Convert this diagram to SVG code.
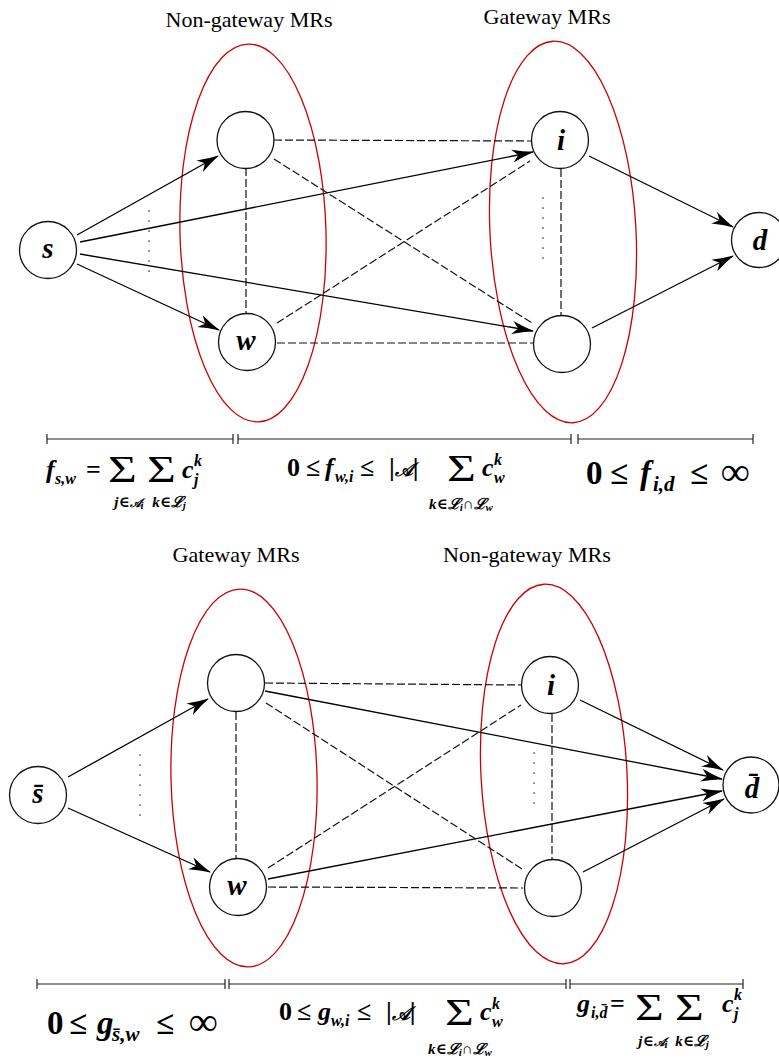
<svg xmlns="http://www.w3.org/2000/svg" width="779" height="1061" viewBox="0 0 779 1061">
<defs>
<marker id="ah" viewBox="0 0 22 14" refX="21" refY="7" markerWidth="22" markerHeight="14" markerUnits="userSpaceOnUse" orient="auto">
<path d="M0,0.5 Q11,4.5 22,7 Q11,9.5 0,13.5 L6,7 Z" fill="#000"/>
</marker>
<style>
.node{fill:#fff;stroke:#111;stroke-width:1.3}
.grp{fill:none;stroke:#cc0000;stroke-width:1.3}
.arr{fill:none;stroke:#000;stroke-width:1.3;marker-end:url(#ah)}
.dash{fill:none;stroke:#111;stroke-width:1.2;stroke-dasharray:8 3}
.dot{fill:none;stroke:#333;stroke-width:1.7;stroke-linecap:round;stroke-dasharray:0 10}
.bar{fill:none;stroke:#222;stroke-width:1.2}
.lbl{font-family:"Liberation Serif",serif;font-size:21px;text-anchor:middle;fill:#000}
.nl{font-family:"Liberation Serif","DejaVu Serif",serif;font-style:italic;font-weight:bold;font-size:29px;text-anchor:middle;fill:#000}
.m{font-family:"Liberation Serif","DejaVu Serif",serif;font-weight:bold;font-size:26px;fill:#000}
.mi{font-style:italic}
.s{font-size:16px}
.sb{font-size:15px}
.ss{font-size:11px}
.sc{font-size:19px}
.scs{font-size:12px}
.lg{font-size:33px}
.inf{font-size:40px}
.sig{font-family:"Liberation Serif","DejaVu Serif",serif;font-size:38px;fill:#000}
.c{text-anchor:middle}
</style>
</defs>
<rect width="779" height="1061" fill="#fff"/>

<!-- ===== TOP DIAGRAM ===== -->
<g id="top-groups">
<ellipse class="grp" cx="253" cy="233" rx="73" ry="189" transform="rotate(-1.5 253 233)"/>
<ellipse class="grp" cx="563" cy="232" rx="73" ry="191" transform="rotate(-3 563 232)"/>
<text class="lbl" x="249" y="27" textLength="167" lengthAdjust="spacingAndGlyphs">Non-gateway MRs</text>
<text class="lbl" x="547" y="24" textLength="127" lengthAdjust="spacingAndGlyphs">Gateway MRs</text>
</g>

<g id="top-connectors">
<line class="arr" x1="77" y1="235" x2="218" y2="156"/>
<line class="arr" x1="80" y1="242" x2="533" y2="152"/>
<line class="arr" x1="80" y1="254" x2="533" y2="331"/>
<line class="arr" x1="77" y1="264" x2="219" y2="330"/>
<line class="arr" x1="589" y1="156" x2="733" y2="227"/>
<line class="arr" x1="592" y1="328" x2="733" y2="256"/>
<line class="dash" x1="274" y1="140" x2="531" y2="141"/>
<line class="dash" x1="274" y1="159" x2="532" y2="323"/>
<line class="dash" x1="277" y1="323" x2="530" y2="161"/>
<line class="dash" x1="277" y1="343" x2="533" y2="343"/>
<line class="dash" x1="246" y1="168" x2="246" y2="314"/>
<line class="dash" x1="561" y1="169" x2="561" y2="316"/>
<line class="dot" x1="149" y1="211" x2="149" y2="275"/>
<line class="dot" x1="543" y1="198" x2="543" y2="262"/>
</g>

<g id="node-s"><circle class="node" cx="48" cy="250" r="28.5"/><text class="nl" x="48" y="258">s</text></g>
<g id="node-a"><circle class="node" cx="245.5" cy="140" r="28.5"/></g>
<g id="node-w"><circle class="node" cx="247" cy="342" r="28.5"/><text class="nl" x="246" y="350">w</text></g>
<g id="node-i"><circle class="node" cx="560" cy="140" r="28.5"/><text class="nl" x="561" y="150">i</text></g>
<g id="node-b"><circle class="node" cx="562" cy="344" r="28.5"/></g>
<g id="node-d"><circle class="node" cx="759" cy="240" r="27.5"/><text class="nl" x="760" y="250">d</text></g>

<g id="top-scales">
<path class="bar" d="M47,439H233M47,434V444M233,434V444M238,439H571M238,434V444M571,434V444M578,439H753M578,434V444M753,434V444"/>
</g>

<g id="top-formulas">
<text class="m"><tspan class="mi" x="46" y="478">f</tspan><tspan class="mi s" x="55" y="484">s,w</tspan><tspan x="86" y="478">=</tspan></text>
<text class="sig" transform="translate(108,482) scale(1.3,1)">Σ</text>
<text class="sig" transform="translate(147,482) scale(1.3,1)">Σ</text>
<text class="m mi sb c" x="129" y="507">j∈<tspan class="scs">𝒜</tspan><tspan class="ss" dy="2">i</tspan></text>
<text class="m mi sb c" x="169" y="507">k∈ℒ<tspan class="ss" dy="2">j</tspan></text>
<text class="m mi"><tspan x="182" y="478">c</tspan><tspan class="s" x="194" y="466">k</tspan><tspan class="s" x="194" y="485">j</tspan></text>

<text class="m"><tspan x="287" y="476">0</tspan><tspan x="306" y="476">≤</tspan><tspan class="mi" x="325" y="476">f</tspan><tspan class="mi s" x="335" y="482">w,i</tspan><tspan x="360" y="476">≤</tspan><tspan x="389" y="476">|<tspan class="mi sc">𝒜</tspan>|</tspan></text>
<text class="sig" transform="translate(447,481) scale(1.3,1)">Σ</text>
<text class="m mi sb c" x="461" y="509">k∈ℒ<tspan class="ss" dy="2">i</tspan><tspan dy="-2">∩ℒ</tspan><tspan class="ss" dy="2">w</tspan></text>
<text class="m mi"><tspan x="482" y="476">c</tspan><tspan class="s" x="494" y="465">k</tspan><tspan class="s" x="494" y="483">w</tspan></text>

<text class="m lg"><tspan x="586" y="484">0</tspan><tspan x="610" y="484">≤</tspan><tspan class="mi" x="640" y="484">f</tspan><tspan class="mi" x="653" y="491" font-size="21">i,d</tspan><tspan x="690" y="484">≤</tspan><tspan class="inf" x="721" y="485">∞</tspan></text>
</g>

<!-- ===== BOTTOM DIAGRAM ===== -->
<g id="bottom-groups">
<ellipse class="grp" cx="244" cy="778" rx="73" ry="189" transform="rotate(-1.3 244 778)"/>
<ellipse class="grp" cx="554" cy="774" rx="73" ry="190" transform="rotate(-3 554 774)"/>
<text class="lbl" x="236" y="562" textLength="127" lengthAdjust="spacingAndGlyphs">Gateway MRs</text>
<text class="lbl" x="527" y="562" textLength="168" lengthAdjust="spacingAndGlyphs">Non-gateway MRs</text>
</g>

<g id="bottom-connectors">
<line class="arr" x1="68" y1="777" x2="208" y2="699"/>
<line class="arr" x1="68" y1="808" x2="210" y2="872"/>
<line class="arr" x1="265" y1="691" x2="722" y2="779"/>
<line class="arr" x1="268" y1="879" x2="722" y2="791"/>
<line class="arr" x1="580" y1="700" x2="723" y2="770"/>
<line class="arr" x1="583" y1="872" x2="724" y2="799"/>
<line class="dash" x1="265" y1="683" x2="522" y2="685"/>
<line class="dash" x1="266" y1="703" x2="522" y2="869"/>
<line class="dash" x1="268" y1="868" x2="521" y2="705"/>
<line class="dash" x1="268" y1="887" x2="523" y2="888"/>
<line class="dash" x1="236" y1="712" x2="236" y2="858"/>
<line class="dash" x1="552" y1="714" x2="552" y2="860"/>
<line class="dot" x1="140" y1="755" x2="140" y2="819"/>
<line class="dot" x1="534" y1="753" x2="534" y2="807"/>
</g>

<g id="node-sbar"><circle class="node" cx="38" cy="795" r="28.5"/><text class="nl" x="38" y="803">s̄</text></g>
<g id="node-a2"><circle class="node" cx="236" cy="683" r="28.5"/></g>
<g id="node-w2"><circle class="node" cx="238" cy="887" r="28.5"/><text class="nl" x="237" y="895">w</text></g>
<g id="node-i2"><circle class="node" cx="550" cy="685" r="28.5"/><text class="nl" x="551" y="695">i</text></g>
<g id="node-b2"><circle class="node" cx="553" cy="888" r="28.5"/></g>
<g id="node-dbar"><circle class="node" cx="751" cy="785" r="28"/><text class="nl" x="752" y="798">d̄</text></g>

<g id="bottom-scales">
<path class="bar" d="M37,984H225M37,979V989M225,979V989M229,984H566M229,979V989M566,979V989M570,984H743M570,979V989M743,979V989"/>
</g>

<g id="bottom-formulas">
<text class="m lg"><tspan x="47" y="1034">0</tspan><tspan x="69" y="1034">≤</tspan><tspan class="mi" x="97" y="1034">g</tspan><tspan class="mi" x="112" y="1041" font-size="21">s̄,w</tspan><tspan x="156" y="1034">≤</tspan><tspan class="inf" x="189" y="1035">∞</tspan></text>

<text class="m"><tspan x="279" y="1020">0</tspan><tspan x="297" y="1020">≤</tspan><tspan class="mi" x="318" y="1020">g</tspan><tspan class="mi s" x="331" y="1026">w,i</tspan><tspan x="357" y="1020">≤</tspan><tspan x="386" y="1020">|<tspan class="mi sc">𝒜</tspan>|</tspan></text>
<text class="sig" transform="translate(445,1025) scale(1.3,1)">Σ</text>
<text class="m mi sb c" x="460" y="1054">k∈ℒ<tspan class="ss" dy="2">i</tspan><tspan dy="-2">∩ℒ</tspan><tspan class="ss" dy="2">w</tspan></text>
<text class="m mi"><tspan x="480" y="1020">c</tspan><tspan class="s" x="492" y="1009">k</tspan><tspan class="s" x="492" y="1027">w</tspan></text>

<text class="m"><tspan class="mi" x="577" y="1012">g</tspan><tspan class="mi s" x="591" y="1018">i,d̄</tspan><tspan x="610" y="1012">=</tspan></text>
<text class="sig" transform="translate(635,1020) scale(1.3,1)">Σ</text>
<text class="sig" transform="translate(675,1020) scale(1.3,1)">Σ</text>
<text class="m mi sb c" x="653" y="1046">j∈<tspan class="scs">𝒜</tspan><tspan class="ss" dy="2">i</tspan></text>
<text class="m mi sb c" x="692" y="1046">k∈ℒ<tspan class="ss" dy="2">j</tspan></text>
<text class="m mi"><tspan x="722" y="1012">c</tspan><tspan class="s" x="734" y="1000">k</tspan><tspan class="s" x="734" y="1019">j</tspan></text>
</g>
</svg>
